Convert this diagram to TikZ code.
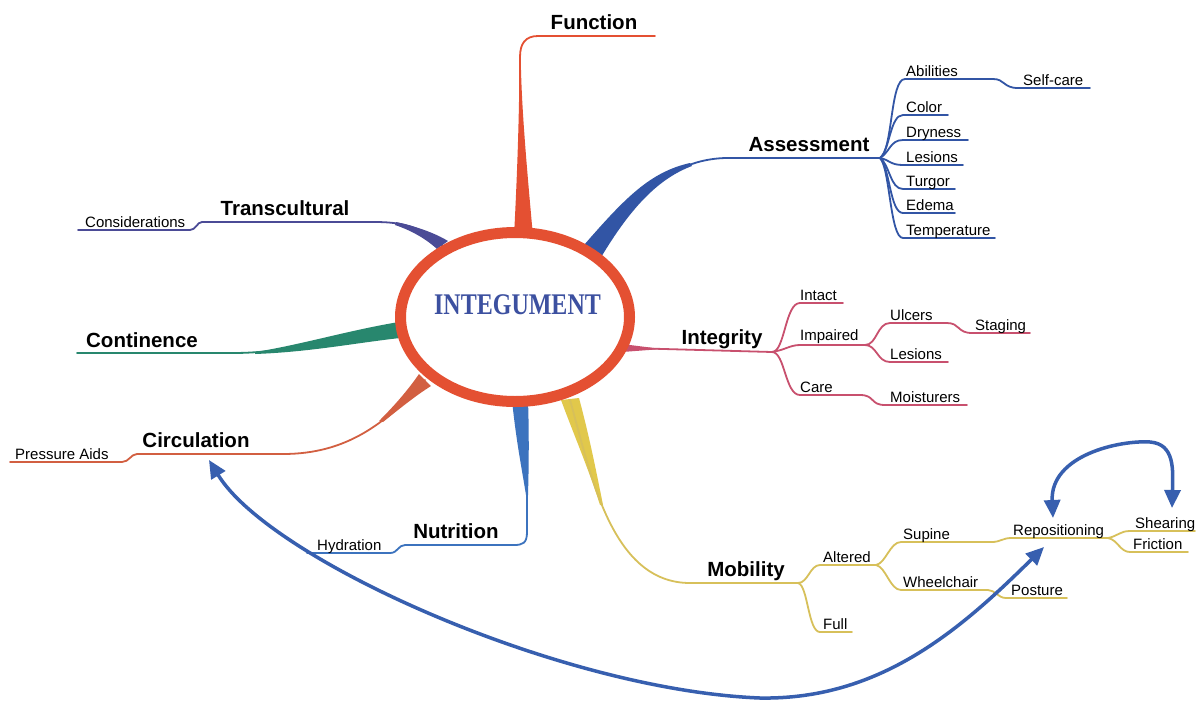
\documentclass[tikz,border=0pt]{standalone}
\usepackage{fontspec}
\setmainfont{Liberation Sans}
\newfontfamily\serifbold{Liberation Serif}
\usetikzlibrary{arrows.meta}
\definecolor{redc}{RGB}{228,80,50}
\definecolor{assc}{RGB}{50,85,165}
\definecolor{transc}{RGB}{75,75,150}
\definecolor{contc}{RGB}{40,135,110}
\definecolor{circc}{RGB}{210,95,65}
\definecolor{nutc}{RGB}{60,115,190}
\definecolor{mobc}{RGB}{225,200,75}
\definecolor{mobthin}{RGB}{215,192,90}
\definecolor{integc}{RGB}{200,80,110}
\definecolor{arrc}{RGB}{55,95,175}
\definecolor{txtblue}{RGB}{60,80,160}
\begin{document}
\begin{tikzpicture}[x=1pt,y=-1pt,line cap=round,line join=round,
  big/.style={font=\fontsize{20.5}{22}\selectfont\bfseries,inner sep=0pt},
  small/.style={font=\fontsize{15}{16}\selectfont,inner sep=0pt,anchor=base west},
  lnk/.style={line width=1.8pt},
  arr/.style={draw=arrc,line width=3.5pt,line cap=butt,{Triangle[length=18pt,width=16pt]}-{Triangle[length=18pt,width=16pt]}}]
\useasboundingbox (0,0) rectangle (1198,702);
\fill[white] (0,0) rectangle (1198,702);

% ---------- Function
\fill[redc] (514,236) .. controls (518,160) and (519,110) .. (519.5,70) -- (521,70) .. controls (522,110) and (526,160) .. (533,236) -- cycle;
\coordinate (fj) at (520,236);
\coordinate (fe) at (655,36);
\draw[redc,lnk] (fj) -- (520,57) .. controls (520,44) and (525,36) .. (538,36) -- (fe);
\node[big] (func) at (594,22) {Function};

% ---------- Assessment
\fill[assc] (584,245) .. controls (625,198) and (650,172) .. (690,163) -- (692,166) .. controls (660,178) and (632,205) .. (600,259) -- cycle;
\coordinate (aj0) at (592,252);
\coordinate (aj) at (880,158);
\draw[assc,lnk] (aj0) .. controls (640,195) and (670,160) .. (725,158) -- (aj);
\node[big] (assess) at (809,145) {Assessment};
\draw[assc,lnk] (aj) .. controls (893,150) and (890,79) .. (905,79) -- (993,79) .. controls (1005,79) and (1003,88) .. (1018,88) -- (1090,88);
\draw[assc,lnk] (aj) .. controls (890,150) and (890,115) .. (903,115) -- (948,115);
\draw[assc,lnk] (aj) .. controls (890,152) and (890,140) .. (903,140) -- (968,140);
\draw[assc,lnk] (aj) .. controls (890,160) and (890,165) .. (903,165) -- (963,165);
\draw[assc,lnk] (aj) .. controls (890,165) and (890,189) .. (903,189) -- (955,189);
\draw[assc,lnk] (aj) .. controls (890,168) and (890,213) .. (903,213) -- (955,213);
\draw[assc,lnk] (aj) .. controls (890,168) and (890,238) .. (903,238) -- (995,238);
\node[small] (abil) at (906,76) {Abilities};
\node[small] (self) at (1023,85) {Self-care};
\node[small] (color) at (906,112) {Color};
\node[small] (dry) at (906,137) {Dryness};
\node[small] (les1) at (906,162) {Lesions};
\node[small] (turg) at (906,186) {Turgor};
\node[small] (edem) at (906,210) {Edema};
\node[small] (temp) at (906,235) {Temperature};

% ---------- Transcultural
\fill[transc] (437,249) .. controls (425,238) and (410,230) .. (395,225) -- (396,222) .. controls (415,226) and (435,233) .. (448,241) -- cycle;
\coordinate (tj) at (447,250);
\draw[transc,lnk] (tj) .. controls (425,228) and (405,222) .. (375,222) -- (202,222) .. controls (197,222) and (196,230) .. (190,230) -- (78,230);
\node[big] (trans) at (285,208) {Transcultural};
\node[small] (consid) at (85,227) {Considerations};

% ---------- Continence
\fill[contc] (399,322) .. controls (350,330) and (300,345) .. (255,352) -- (255,354) .. controls (310,352) and (355,343) .. (400,338) -- cycle;
\coordinate (cj) at (400,330);
\draw[contc,lnk] (cj) .. controls (330,338) and (290,353) .. (233,353) -- (77,353);
\node[big] (contin) at (142,340) {Continence};

% ---------- Circulation
\fill[circc] (419,374) .. controls (408,390) and (395,405) .. (379,421) -- (383,422) .. controls (398,410) and (415,396) .. (431,386) -- cycle;
\coordinate (cij) at (425,380);
\draw[circc,lnk] (cij) .. controls (385,425) and (345,454) .. (283,454) -- (137,454) .. controls (131,454) and (129,462) .. (122,462) -- (10,462);
\node[big] (circ) at (196,440) {Circulation};
\node[small] (press) at (15,459) {Pressure Aids};

% ---------- Nutrition
\fill[nutc] (512,400) .. controls (516,440) and (522,470) .. (526,495) -- (528,495) .. controls (529,460) and (529,430) .. (528,400) -- cycle;
\coordinate (nj) at (521,400);
\draw[nutc,lnk] (nj) .. controls (525,430) and (527,450) .. (527,480) -- (527,532) .. controls (527,543) and (523,545) .. (514,545) -- (405,545) .. controls (398,545) and (398,553) .. (390,553) -- (307,553);
\node[big] (nutr) at (456,531) {Nutrition};
\node[small] (hydr) at (317,550) {Hydration};

% ---------- Mobility
\fill[mobc] (561,400) .. controls (574,435) and (589,470) .. (600,505) -- (603,505) .. controls (596,470) and (589,435) .. (579,398) -- cycle;
\coordinate (mj0) at (570,400);
\coordinate (mj) at (798,583);
\draw[mobthin,lnk] (mj0) .. controls (590,470) and (610,583) .. (690,583) -- (mj);
\node[big] (mobil) at (746,571) {Mobility};
\coordinate (altj) at (876,565);
\coordinate (repj) at (1108,538);
\draw[mobthin,lnk] (mj) .. controls (808,583) and (810,565) .. (820,565) -- (altj);
\draw[mobthin,lnk] (mj) .. controls (808,585) and (808,632) .. (820,632) -- (852,632);
\draw[mobthin,lnk] (altj) .. controls (886,563) and (890,542) .. (901,542) -- (992,542) .. controls (1000,542) and (1003,538) .. (1011,538) -- (repj);
\draw[mobthin,lnk] (altj) .. controls (886,567) and (890,590) .. (901,590) -- (988,590) .. controls (995,590) and (998,598) .. (1006,598) -- (1067,598);
\draw[mobthin,lnk] (repj) .. controls (1118,536) and (1120,531) .. (1130,531) -- (1195,531);
\draw[mobthin,lnk] (repj) .. controls (1118,540) and (1120,552) .. (1130,552) -- (1188,552);
\node[small] (alt) at (823,562) {Altered};
\node[small] (full) at (823,629) {Full};
\node[small] (sup) at (903,539) {Supine};
\node[small] (wheel) at (903,587) {Wheelchair};
\node[small] (post) at (1011,595) {Posture};
\node[small] (repos) at (1013,535) {Repositioning};
\node[small] (shear) at (1135,528) {Shearing};
\node[small] (fric) at (1133,549) {Friction};

% ---------- Integrity
\fill[integc] (622,344) -- (662,349) -- (622,352) -- cycle;
\coordinate (ij0) at (628,348);
\coordinate (ij) at (772,352);
\coordinate (impj) at (865,345);
\draw[integc,lnk] (ij0) -- (ij);
\node[big] (integ) at (722,339) {Integrity};
\draw[integc,lnk] (ij) .. controls (785,352) and (785,303) .. (800,303) -- (843,303);
\draw[integc,lnk] (ij) .. controls (785,350) and (790,345) .. (800,345) -- (impj);
\draw[integc,lnk] (ij) .. controls (785,352) and (785,395) .. (800,395) -- (860,395) .. controls (875,395) and (870,405) .. (885,405) -- (967,405);
\draw[integc,lnk] (impj) .. controls (877,345) and (877,323) .. (890,323) -- (947,323) .. controls (960,323) and (957,333) .. (972,333) -- (1030,333);
\draw[integc,lnk] (impj) .. controls (877,345) and (877,362) .. (890,362) -- (948,362);
\node[small] (intact) at (800,300) {Intact};
\node[small] (impair) at (800,340) {Impaired};
\node[small] (ulc) at (890,320) {Ulcers};
\node[small] (stag) at (975,330) {Staging};
\node[small] (les2) at (890,359) {Lesions};
\node[small] (care) at (800,392) {Care};
\node[small] (moist) at (890,402) {Moisturers};

% ---------- centre
\draw[redc,line width=11pt,fill=white] (515,317) ellipse [x radius=114.5pt,y radius=84.5pt];
\node[font=\serifbold\bfseries\fontsize{24}{26}\selectfont,text=txtblue,inner sep=0pt] (center) at (517.5,305) {\scalebox{1}[1.25]{INTEGUMENT}};

% ---------- arrows
\coordinate (circtip) at (209,460);
\coordinate (repostip) at (1044,547);
\draw[arr] (circtip) .. controls (270,560) and (560,690) .. (760,698) .. controls (880,700) and (960,630) .. (repostip);
\coordinate (loopa) at (1053,518);
\coordinate (loopb) at (1172,508);
\draw[arr] (loopa) .. controls (1050,455) and (1120,440) .. (1150,442) .. controls (1175,444) and (1173,470) .. (loopb);
\end{tikzpicture}
\end{document}
